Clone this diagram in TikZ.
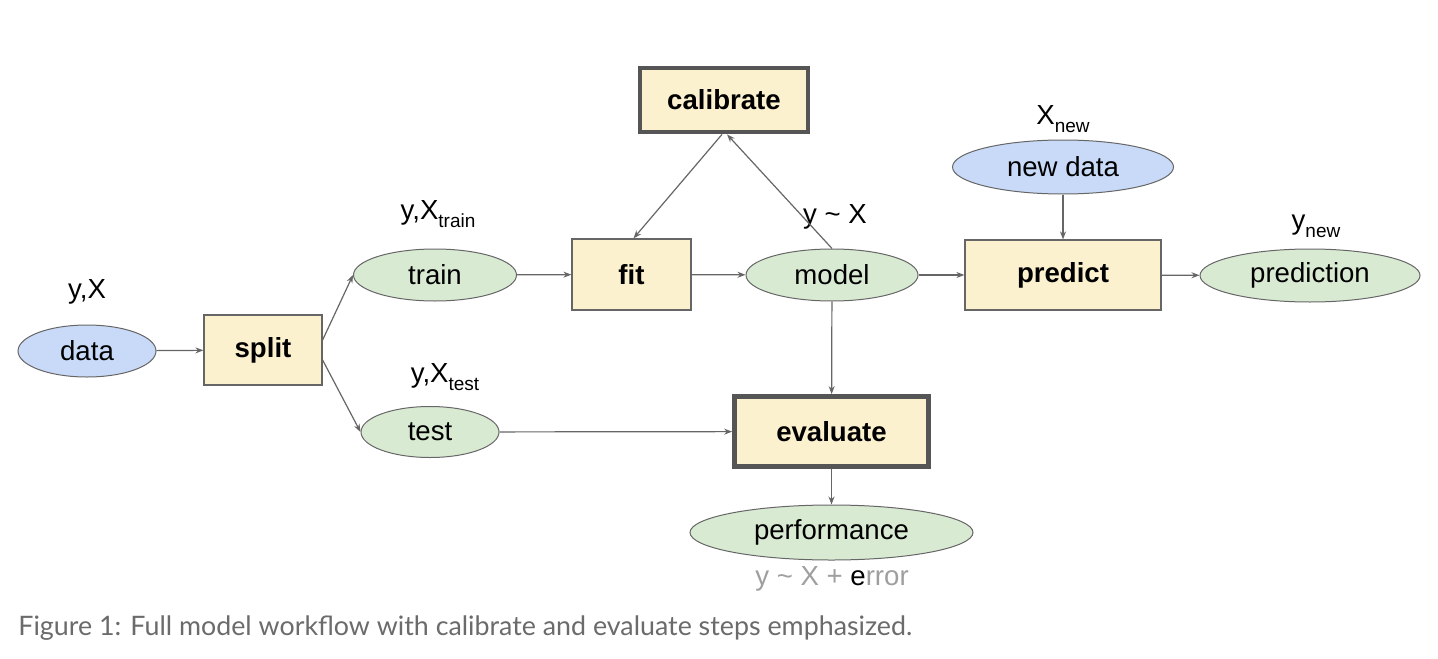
\documentclass[tikz,border=0pt]{standalone}
\usepackage{fontspec}
\setmainfont{Liberation Sans}
\newfontfamily\capfont{Lato}
\usetikzlibrary{shapes.geometric,arrows.meta}
\definecolor{boxfill}{HTML}{FCF1CF}
\definecolor{bluefill}{HTML}{C9DAF8}
\definecolor{greenfill}{HTML}{D9EAD3}
\definecolor{edge}{HTML}{666666}
\definecolor{thick}{HTML}{555555}
\definecolor{captext}{HTML}{6B6B6B}
\newcommand{\lowsub}[1]{\raisebox{-0.55ex}{\fontsize{9.5}{10}\selectfont #1}}
\tikzset{
  stepbox/.style={draw=edge, line width=0.6pt, fill=boxfill, inner sep=0pt, font=\fontsize{13.8}{16}\selectfont\bfseries},
  keybox/.style={stepbox, draw=thick, line width=2.4pt},
  blueell/.style={ellipse, draw=edge, line width=0.5pt, fill=bluefill, inner sep=0pt, font=\fontsize{13.8}{16}\selectfont},
  greenell/.style={ellipse, draw=edge, line width=0.5pt, fill=greenfill, inner sep=0pt, font=\fontsize{13.8}{16}\selectfont},
  lab/.style={font=\fontsize{13.8}{16}\selectfont, inner sep=0pt},
  conn/.style={draw=edge, line width=0.6pt, -{Stealth[length=4pt,width=3pt]}},
}
\begin{document}
\begin{tikzpicture}[x=0.5pt,y=-0.5pt]
\path[fill=white] (0,0) rectangle (1438,658);
% nodes
\node[blueell, minimum width=69pt, minimum height=26pt] (data) at (87,351) {data};
\node[lab] (ldata) at (87,292) {y,X};
\node[stepbox, minimum width=59pt, minimum height=35pt] (split) at (263,350) {split};
\node[greenell, minimum width=81.5pt, minimum height=26pt] (train) at (435,275) {train};
\node[lab] (ltrain) at (438,214) {y,X\lowsub{train}};
\node[greenell, minimum width=69pt, minimum height=25.5pt] (test) at (430,432) {test};
\node[lab] (ltest) at (445,377) {y,X\lowsub{test}};
\node[stepbox, minimum width=59.5pt, minimum height=35.5pt] (fit) at (631.5,274.5) {fit};
\node[greenell, minimum width=86pt, minimum height=26pt] (model) at (832,275) {model};
\node[lab] (lmodel) at (835,217) {y \textasciitilde{} X};
\node[keybox, minimum width=84pt, minimum height=32pt] (cal) at (724,100) {calibrate};
\node[stepbox, minimum width=98pt, minimum height=35pt] (pred) at (1063,275) {predict};
\node[blueell, minimum width=110.5pt, minimum height=27pt] (new) at (1063,167) {new data};
\node[lab] (lnew) at (1063,119) {X\lowsub{new}};
\node[greenell, minimum width=110pt, minimum height=26.5pt] (prediction) at (1310,275.5) {prediction};
\node[lab] (lpred) at (1316,226) {y\lowsub{new}};
\node[keybox, minimum width=97pt, minimum height=35pt] (eval) at (831.5,431.5) {evaluate};
\node[greenell, minimum width=141.5pt, minimum height=27.5pt] (perf) at (831.5,532.5) {performance};
\node[lab, text=gray!75] (lperf) at (832,579) {y \textasciitilde{} X + \textcolor{black}{e}rror};
\node[anchor=west, inner sep=0pt, font=\capfont\fontsize{13.4}{16}\selectfont, text=captext] (cap) at (18,628) {Figure 1: Full model workflow with calibrate and evaluate steps emphasized.};
% connectors
\draw[conn] (data) -- (split);
\draw[conn] ([yshift=5pt]split.east) -- (train.west);
\draw[conn] ([yshift=-5pt]split.east) -- (test.west);
\draw[conn] (train) -- (fit);
\draw[conn] (fit) -- (model);
\draw[conn] (model) -- (pred);
\draw[conn] (pred) -- (prediction);
\draw[conn] (new) -- (pred);
\draw[conn] (model) -- (eval);
\draw[conn] (test) -- (eval);
\draw[conn] (eval) -- (perf);
\draw[conn] ([xshift=-1pt]cal.south) -- ([xshift=1pt]fit.north);
\draw[conn] (model.north) -- ([xshift=1.5pt]cal.south);
\end{tikzpicture}
\end{document}
